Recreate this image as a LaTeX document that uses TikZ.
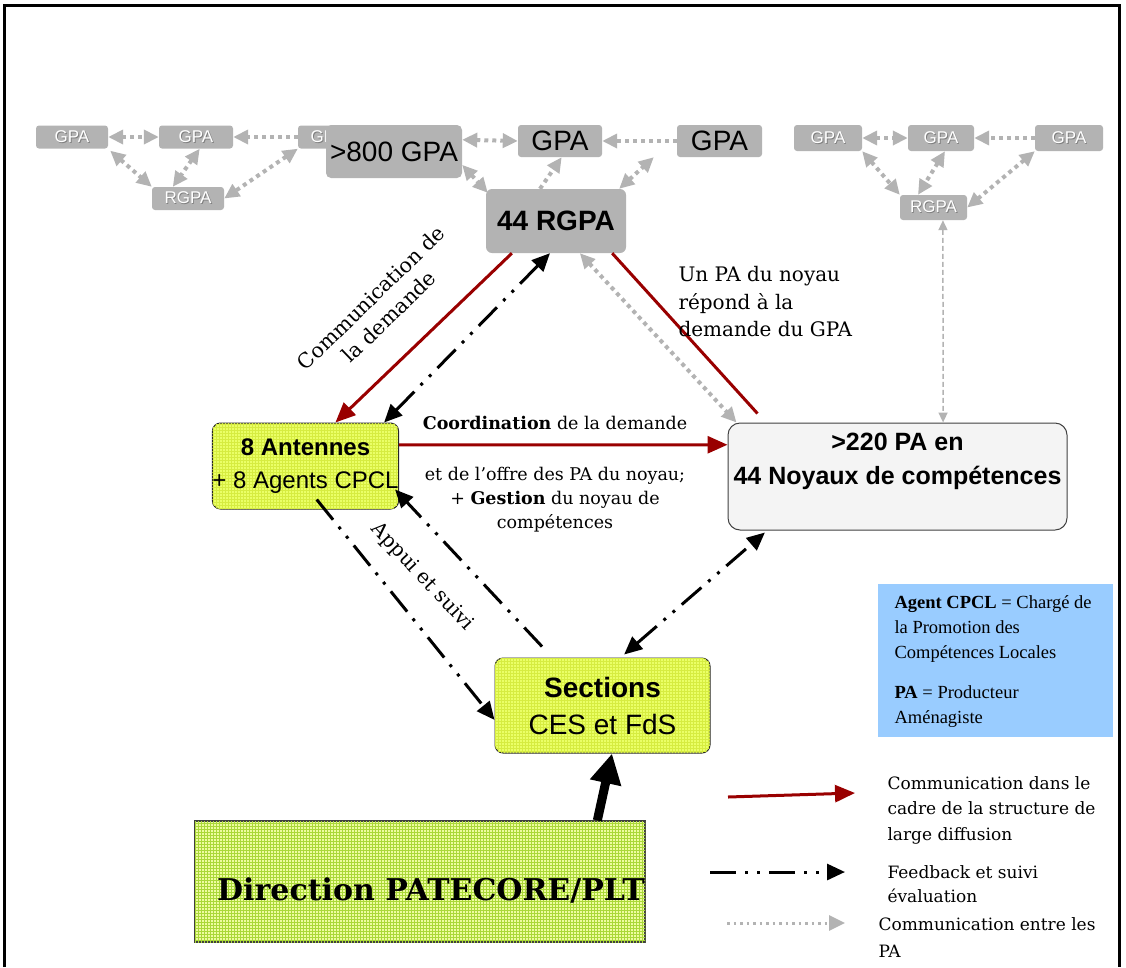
\documentclass[tikz,border=0pt]{standalone}
\usepackage{fontspec}
\setmainfont{DejaVu Serif}
\newfontfamily\arialf{Liberation Sans}
\newfontfamily\timesf{Liberation Serif}
\usetikzlibrary{arrows.meta,calc,patterns}

\definecolor{darkred}{HTML}{990000}
\definecolor{boxgray}{HTML}{B3B3B3}
\definecolor{antyellow}{HTML}{EAFF66}
\definecolor{antgrid}{HTML}{D6EC40}
\definecolor{dirfill}{HTML}{EEFCA0}
\definecolor{dirgrid}{HTML}{AAD838}
\definecolor{legblue}{HTML}{99CCFF}
\definecolor{pafill}{HTML}{F4F4F4}

\newcommand{\setfs}[2]{\fontsize{#1}{#2}\selectfont}
% white lettering with a grey drop shadow for the small GPA boxes
\newcommand{\ghosttext}[1]{\rlap{\kern0.9pt\raisebox{-0.9pt}{\textcolor{black!50}{#1}}}\textcolor{white}{#1}}

\tikzset{
  GT/.tip={Triangle[length=15pt,width=14pt]},
  BT/.tip={Triangle[length=18pt,width=16pt]},
  RT/.tip={Triangle[length=20pt,width=17pt]},
  ST/.tip={Triangle[length=10pt,width=9pt]},
  graybox/.style={fill=boxgray, rounded corners=3pt, inner sep=0pt},
  smallgpa/.style={graybox, font=\arialf\setfs{17}{17}},
  yellowbox/.style={draw=black!85, line width=1pt, rounded corners=8pt, fill=antyellow,
     postaction={pattern=grid, pattern color=antgrid}, inner sep=0pt},
  gdot/.style={draw=boxgray, line width=4pt, dash pattern=on 4pt off 4pt},
  fbline/.style={draw=black, line width=3pt, dash pattern=on 26pt off 9pt on 3pt off 9pt on 3pt off 9pt},
  redline/.style={draw=darkred, line width=3pt},
}

\begin{document}
\begin{tikzpicture}[x=1pt,y=-1pt]
\useasboundingbox (0,0) rectangle (1126,967);

% outer frame
\draw[line width=3pt] (4,967) -- (4,5.5) -- (1119,5.5) -- (1119,967);

% ---------- left GPA cluster ----------
\node[smallgpa, minimum width=72pt, minimum height=23pt] (g1) at (72,137) {\ghosttext{GPA}};
\node[smallgpa, minimum width=74pt, minimum height=23pt] (g2) at (196,137) {\ghosttext{GPA}};
\node[smallgpa, minimum width=60pt, minimum height=23pt] (g3) at (328,137) {\ghosttext{GPA}};
\node[smallgpa, minimum width=72pt, minimum height=23pt] (r1) at (188,198.5) {\ghosttext{RGPA}};

% ---------- central GPA group ----------
\node[graybox, rounded corners=5pt, minimum width=136pt, minimum height=53pt, font=\arialf\setfs{28}{28}] (g800) at (394,151.5) {>800 GPA};
\node[graybox, minimum width=84pt, minimum height=32pt, font=\arialf\setfs{28}{28}] (gc) at (560,141) {GPA};
\node[graybox, minimum width=85pt, minimum height=32pt, font=\arialf\setfs{28}{28}] (gr) at (719.5,141) {GPA};
\node[graybox, rounded corners=6pt, minimum width=140pt, minimum height=64pt, font=\arialf\bfseries\setfs{28}{28}] (rg) at (556,221) {44 RGPA};

% ---------- right GPA cluster ----------
\node[smallgpa, minimum width=68pt, minimum height=26pt] (ga) at (828,138) {\ghosttext{GPA}};
\node[smallgpa, minimum width=66pt, minimum height=26pt] (gb) at (941,138) {\ghosttext{GPA}};
\node[smallgpa, minimum width=68pt, minimum height=26pt] (gd) at (1069,138) {\ghosttext{GPA}};
\node[smallgpa, minimum width=67pt, minimum height=25pt] (r2) at (933.5,207.5) {\ghosttext{RGPA}};

% links between the GPA
\draw[gdot, GT-GT] (g1.east) -- (g2.west);
\draw[gdot, -GT] (g3.west) -- (g2.east);
\draw[gdot, GT-GT] ($(g1.south east)+(2,2)$) -- (r1.north west);
\draw[gdot, GT-GT] ($(g2.south west)!0.55!(g2.south east)$) -- ($(r1.north west)!0.29!(r1.north east)$);
\draw[gdot, GT-GT] (g3.south west) -- (r1.east);
\draw[gdot, GT-GT] ($(g800.north east)!0.28!(g800.south east)$) -- (gc.west);
\draw[gdot, -GT] (gr.west) -- (gc.east);
\draw[gdot, GT-GT] ($(g800.north east)!0.75!(g800.south east)$) -- ($(rg.north west)+(2,4)$);
\draw[gdot, -GT] ($(rg.north west)!0.386!(rg.north east)$) -- ($(gc.south west)!0.52!(gc.south east)$);
\draw[gdot, GT-GT] ($(rg.north west)!0.95!(rg.north east)$) -- ($(gr.south west)+(-23,0)$);
\draw[gdot, GT-GT] (ga.east) -- (gb.west);
\draw[gdot, -GT] (gd.west) -- (gb.east);
\draw[gdot, GT-GT] (ga.south east) -- (r2.north west);
\draw[gdot, GT-GT] ($(gb.south west)!0.56!(gb.south east)$) -- ($(r2.north west)!0.27!(r2.north east)$);
\draw[gdot, GT-GT] (gd.south west) -- (r2.east);

% ---------- main boxes ----------
\node[yellowbox, minimum width=185pt, minimum height=86pt, align=center,
      font=\arialf\setfs{24}{33}] (ant) at (305.5,466) {\textbf{8 Antennes}\\+ 8 Agents CPCL};
\node[draw=black!75, line width=1pt, rounded corners=12pt, fill=pafill,
      minimum width=339pt, minimum height=107pt] (pa) at (897.5,476.5) {};
\node[align=center, font=\arialf\bfseries\setfs{25}{34}] (patext) at (897.5,461) {>220 PA en\\44 Noyaux de compétences};
\node[yellowbox, minimum width=215pt, minimum height=95pt, align=center,
      font=\arialf\setfs{28}{37}] (sec) at (602.5,705.5) {\textbf{Sections}\\CES et FdS};
\node[draw=black!75, line width=1.2pt, fill=dirfill, postaction={pattern=grid, pattern color=dirgrid},
      minimum width=450pt, minimum height=121pt] (dir) at (420,881.5) {};
\node[font=\bfseries\setfs{30}{30}] (dirtext) at (431,890) {Direction PATECORE/PLT};
\node[fill=legblue, minimum width=235pt, minimum height=153pt] (leg) at (995.5,660.5) {};
\node[anchor=west, align=left, font=\timesf\setfs{18.5}{25}] (legtext) at (891,662)
  {\textbf{Agent CPCL} = Chargé de\\la Promotion des\\Compétences Locales\\[15pt]\textbf{PA} = Producteur\\Aménagiste};

% ---------- connectors ----------
\coordinate (redend) at ($(pa.north west)+(30,-9)$);
\draw[redline, -RT] ($(rg.south west)!0.186!(rg.south east)$) -- ($(ant.north west)!0.66!(ant.north east)$);
\draw[redline] ($(rg.south west)!0.9!(rg.south east)$) -- (redend);
\draw[redline, -RT] ($(ant.north east)!0.256!(ant.south east)$) -- ($(pa.north west)!0.206!(pa.south west)$);
\draw[fbline, BT-BT] ($(ant.north west)!0.92!(ant.north east)$) -- ($(rg.south west)!0.457!(rg.south east)$);
\draw[gdot, GT-GT] ($(rg.south west)!0.67!(rg.south east)$) -- ($(pa.north west)+(9,0)$);
\draw[fbline, -BT] ($(ant.south west)!0.56!(ant.south east)+(0,-10)$) -- ($(sec.north west)!0.65!(sec.south west)$);
\draw[fbline, -BT] ($(sec.north west)!0.22!(sec.north east)+(0,-11)$) -- ($(ant.north east)!0.77!(ant.south east)+(-4,0)$);
\draw[fbline, BT-BT] ($(sec.north west)!0.6!(sec.north east)+(0,-3)$) -- ($(pa.south west)!0.11!(pa.south east)+(0,2)$);
\draw[line width=9pt, -{Triangle[length=30pt,width=30pt]}] ($(dir.north west)!0.893!(dir.north east)$) -- ($(sec.south west)!0.544!(sec.south east)$);
\draw[draw=boxgray, line width=1.5pt, dash pattern=on 5pt off 3pt, ST-ST] ($(r2.south west)!0.64!(r2.south east)$) -- ($(pa.north west)!0.634!(pa.north east)$);

% ---------- labels ----------
\node[rotate=44, align=center, font=\setfs{20.5}{26}] (lbldem) at (380,307) {Communication de\\la demande};
\node[anchor=west, align=left, font=\setfs{20}{27.5}] (lblrep) at (675,302) {Un PA du noyau\\répond à la\\demande du GPA};
\node[font=\setfs{17.5}{17.5}] (lblcoord) at (555,423) {\textbf{Coordination} de la demande};
\node[align=center, font=\setfs{17.5}{24}] (lbloffre) at (555,499.5) {et de l’offre des PA du noyau;\\+ \textbf{Gestion} du noyau de\\compétences};
\node[rotate=-47, font=\setfs{20}{20}] (lblappui) at (422,577) {Appui et suivi};

% ---------- key ----------
\coordinate (k1a) at (728,797);
\coordinate (k1b) at (855,793);
\coordinate (k2a) at (710,872);
\coordinate (k2b) at (845,872);
\coordinate (k3a) at (727,923);
\coordinate (k3b) at (845,923);
\draw[redline, -RT] (k1a) -- (k1b);
\draw[fbline, -BT] (k2a) -- (k2b);
\draw[draw=boxgray, line width=3pt, dash pattern=on 2.5pt off 4pt, -{Triangle[length=16pt,width=15pt]}] (k3a) -- (k3b);
\node[anchor=west, align=left, font=\setfs{17}{25.5}] (key1) at (884,810) {Communication dans le\\cadre de la structure de\\large diffusion};
\node[anchor=west, align=left, font=\setfs{17}{24}] (key2) at (884,884) {Feedback et suivi\\évaluation};
\node[anchor=west, align=left, font=\setfs{17}{27}] (key3) at (875,937.5) {Communication entre les\\PA};
\end{tikzpicture}
\end{document}
